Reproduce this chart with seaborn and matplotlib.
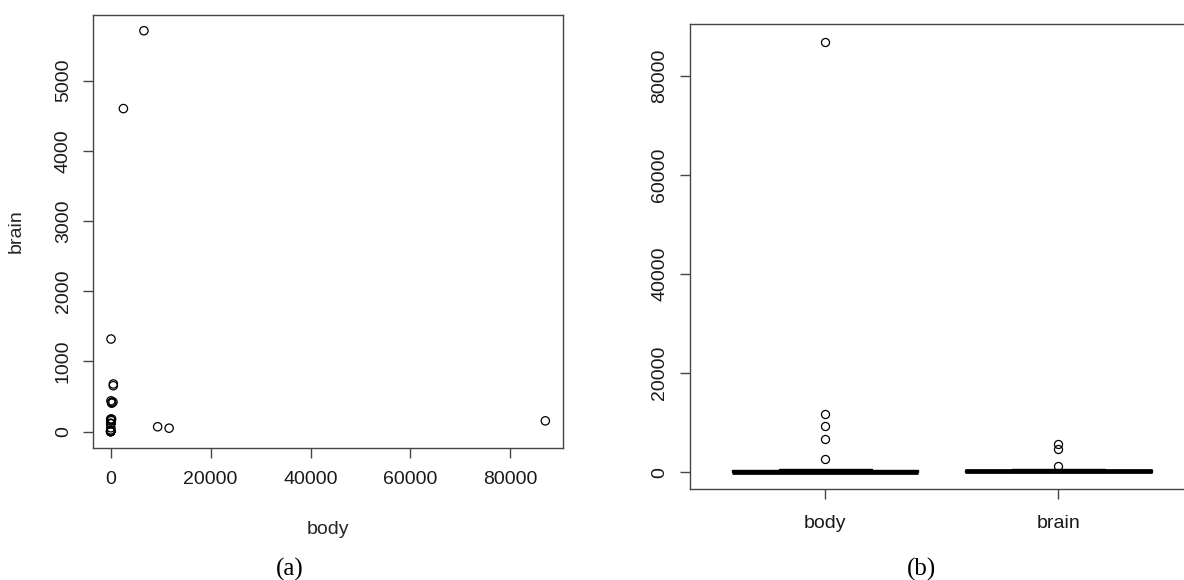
import matplotlib
matplotlib.use("Agg")
import matplotlib.pyplot as plt
import numpy as np
import pandas as pd
import seaborn as sns

# Animals data: body weight (kg) and brain weight (g)
animals = ["Mountain beaver", "Cow", "Grey wolf", "Goat", "Guinea pig", "Dipliodocus",
           "Asian elephant", "Donkey", "Horse", "Potar monkey", "Cat", "Giraffe",
           "Gorilla", "Human", "African elephant", "Triceratops", "Rhesus monkey",
           "Kangaroo", "Golden hamster", "Mouse", "Rabbit", "Sheep", "Jaguar",
           "Chimpanzee", "Rat", "Brachiosaurus", "Mole", "Pig"]
body = [1.35, 465, 36.33, 27.66, 1.04, 11700, 2547, 187.1, 521, 10, 3.3, 529,
        207, 62, 6654, 9400, 6.8, 35, 0.12, 0.023, 2.5, 55.5, 100, 52.16, 0.28,
        87000, 0.122, 192]
brain = [8.1, 423, 119.5, 115, 5.5, 50, 4603, 419, 655, 115, 25.6, 680, 406,
         1320, 5712, 70, 179, 56, 1, 0.4, 12.1, 175, 157, 440, 1.9, 154.5, 3, 180]

scatter_xticks = [0, 20000, 40000, 60000, 80000]
scatter_yticks = [0, 1000, 2000, 3000, 4000, 5000]
box_yticks = [0, 20000, 40000, 60000, 80000]
variables = ["body", "brain"]

df = pd.DataFrame({"animal": animals, "body": body, "brain": brain})
long_df = df.melt(id_vars="animal", value_vars=variables,
                  var_name="variable", value_name="value")

sns.set_theme(style="white")
plt.rcParams["font.family"] = ["Liberation Sans", "DejaVu Sans"]

frame_col = "#454545"
fs = 14

fig = plt.figure(figsize=(11.84, 5.80), dpi=100)
ax1 = fig.add_axes([93.3 / 1184, 1 - 447.7 / 580, (562.7 - 93.3) / 1184, (447.7 - 14.7) / 580])
ax2 = fig.add_axes([690 / 1184, 1 - 489.3 / 580, (1193.6 - 690) / 1184, (489.3 - 24.3) / 580])


def r_range(lo, hi):
    d = (hi - lo) * 0.04
    return lo - d, hi + d


# (a) scatter of brain vs body
sns.scatterplot(data=df, x="body", y="brain", ax=ax1, marker="o", s=36,
                facecolor="none", edgecolor="black", linewidth=0.9)
ax1.set_xlim(*r_range(min(body), max(body)))
ax1.set_ylim(*r_range(min(brain), max(brain)))
ax1.set_xticks(scatter_xticks)
ax1.set_xticklabels([str(t) for t in scatter_xticks], fontsize=fs)
ax1.set_yticks(scatter_yticks)
ax1.set_yticklabels([str(t) for t in scatter_yticks], fontsize=fs,
                    rotation=90, va="center")
ax1.set_xlabel("body", fontsize=fs, labelpad=24)
ax1.set_ylabel("brain", fontsize=fs, labelpad=22)

# (b) side-by-side boxplots
sns.boxplot(data=long_df, x="variable", y="value", order=variables, ax=ax2,
            width=0.8, whis=1.5, color="white", linecolor="black", linewidth=1.0,
            medianprops=dict(color="black", linewidth=3.4, solid_capstyle="butt"),
            whiskerprops=dict(color="black", linestyle="--", linewidth=1.0),
            capprops=dict(color="black", linewidth=1.0),
            flierprops=dict(marker="o", markersize=5.8, markerfacecolor="none",
                            markeredgecolor="black", markeredgewidth=0.9))
ax2.set_xlim(0.42 - 1, 2.58 - 1)
ax2.set_ylim(*r_range(min(body + brain), max(body + brain)))
ax2.set_yticks(box_yticks)
ax2.set_yticklabels([str(t) for t in box_yticks], fontsize=fs,
                    rotation=90, va="center")
ax2.set_xticks([0, 1])
ax2.set_xticklabels(variables, fontsize=fs)
ax2.set_xlabel("")
ax2.set_ylabel("")

for ax in (ax1, ax2):
    for sp in ax.spines.values():
        sp.set_visible(True)
        sp.set_color(frame_col)
        sp.set_linewidth(1.0)
    ax.tick_params(axis="both", which="major", direction="out", length=7.5,
                   width=1.0, color=frame_col, labelcolor="#1a1a1a",
                   bottom=True, left=True)
    ax.tick_params(axis="x", pad=9)
    ax.tick_params(axis="y", pad=8)
    ax.set_facecolor("white")
    ax.grid(False)
ax2.tick_params(axis="x", pad=11)

fig.text(290 / 1184, 1 - 569 / 580, "(a)", ha="center", va="center",
         fontsize=18, family=["Liberation Serif", "DejaVu Serif"], color="black")
fig.text(922 / 1184, 1 - 569 / 580, "(b)", ha="center", va="center",
         fontsize=18, family=["Liberation Serif", "DejaVu Serif"], color="black")

fig.savefig("out.png", dpi=100, facecolor="white")
